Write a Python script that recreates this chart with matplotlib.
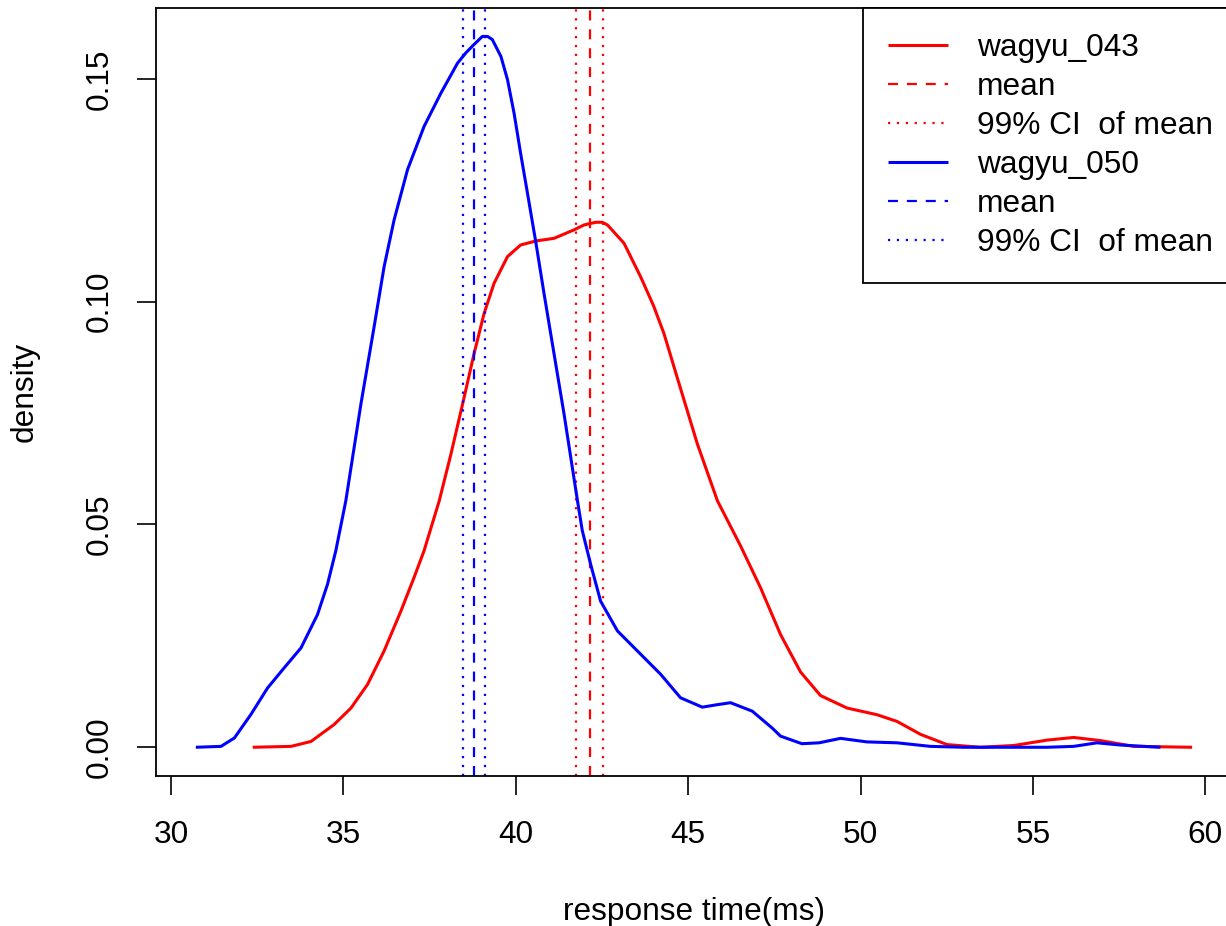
import matplotlib
matplotlib.use("Agg")
import matplotlib.pyplot as plt

plt.rcParams["font.family"] = ["Liberation Sans", "DejaVu Sans"]

# Kernel density estimates of response time (ms)
w043_x = [32.37, 33.48, 34.06, 34.73, 35.22, 35.70, 36.18, 36.67, 37.05, 37.34,
          37.78, 38.12, 38.46, 38.79, 39.08, 39.37, 39.76, 40.14, 40.58, 41.11,
          41.69, 41.98, 42.32, 42.51, 42.66, 43.14, 43.62, 44.00, 44.30, 44.74,
          45.27, 45.85, 46.52, 47.10, 47.68, 48.26, 48.84, 49.61, 50.48, 51.06,
          51.74, 52.51, 53.48, 54.45, 55.41, 56.18, 56.96, 57.93, 59.62]
w043_y = [0.0, 0.0002, 0.0013, 0.0051, 0.0088, 0.0141, 0.0216, 0.0306, 0.0381, 0.0441,
          0.0553, 0.0658, 0.0771, 0.0883, 0.0973, 0.1041, 0.1101, 0.1127, 0.1136, 0.1142,
          0.1161, 0.1172, 0.1178, 0.1178, 0.1172, 0.1131, 0.1056, 0.0990, 0.0928, 0.0815,
          0.0680, 0.0553, 0.0452, 0.0358, 0.0253, 0.0169, 0.0116, 0.0088, 0.0073, 0.0058,
          0.0029, 0.0006, 0.0, 0.0004, 0.0016, 0.0022, 0.0015, 0.0002, 0.0]

w050_x = [30.72, 31.45, 31.84, 32.32, 32.80, 33.28, 33.77, 34.25, 34.54, 34.78,
          35.07, 35.51, 35.89, 36.18, 36.47, 36.86, 37.34, 37.83, 38.31, 38.55,
          38.79, 39.03, 39.18, 39.32, 39.57, 39.76, 39.95, 40.14, 40.34, 40.58,
          40.82, 41.11, 41.40, 41.79, 41.93, 42.17, 42.46, 42.95, 43.53, 44.20,
          44.78, 45.41, 45.80, 46.23, 46.86, 47.44, 47.68, 48.30, 48.80, 49.42,
          50.19, 51.06, 52.03, 53.00, 54.00, 55.41, 56.18, 56.86, 57.54, 58.70]
w050_y = [0.0, 0.0002, 0.0021, 0.0074, 0.0133, 0.0178, 0.0223, 0.0298, 0.0366, 0.0441,
          0.0553, 0.0771, 0.0943, 0.1078, 0.1183, 0.1296, 0.1393, 0.1468, 0.1535, 0.1558,
          0.1577, 0.1595, 0.1595, 0.1588, 0.1550, 0.1498, 0.1423, 0.1333, 0.1243, 0.1134,
          0.1018, 0.0883, 0.0748, 0.0553, 0.0486, 0.0411, 0.0328, 0.0261, 0.0216, 0.0164,
          0.0111, 0.0090, 0.0095, 0.0100, 0.0081, 0.0043, 0.0025, 0.0008, 0.0010, 0.0020,
          0.0012, 0.0010, 0.0002, 0.0, 0.0, 0.0, 0.0002, 0.0010, 0.0005, 0.0]

# Sample means and 99% confidence limits
w043_mean = 42.15
w043_ci = [41.76, 42.53]
w050_mean = 38.79
w050_ci = [38.47, 39.11]

x_ticks = [30, 35, 40, 45, 50, 55, 60]
y_ticks = [0.00, 0.05, 0.10, 0.15]
y_ticklabels = ["0.00", "0.05", "0.10", "0.15"]

FS = 22.8
RED = "#FF0000"
BLUE = "#0000FF"
DASH = (0, (4.5, 4))
DOT = (0, (1, 3))

fig = plt.figure(figsize=(12.26, 9.26), dpi=100)
ax = fig.add_axes([156 / 1226, 1 - 775.7 / 926, 1076 / 1226, 767.7 / 926])

curve_kw = dict(lw=2.2, solid_capstyle="butt", solid_joinstyle="round")
ax.plot(w043_x, w043_y, color=RED, label="wagyu_043", **curve_kw)
ax.axvline(w043_mean, color=RED, lw=1.6, linestyle=DASH, label="mean")
ax.axvline(w043_ci[0], color=RED, lw=1.6, linestyle=DOT, label="99% CI  of mean")
ax.axvline(w043_ci[1], color=RED, lw=1.6, linestyle=DOT)

ax.plot(w050_x, w050_y, color=BLUE, label="wagyu_050", **curve_kw)
ax.axvline(w050_mean, color=BLUE, lw=1.6, linestyle=DASH, label="mean")
ax.axvline(w050_ci[0], color=BLUE, lw=1.6, linestyle=DOT, label="99% CI  of mean")
ax.axvline(w050_ci[1], color=BLUE, lw=1.6, linestyle=DOT)

xmin, xmax = min(w050_x[0], w043_x[0]), max(w050_x[-1], w043_x[-1])
xr = xmax - xmin
ax.set_xlim(xmin - 0.04 * xr, xmax + 0.04 * xr)
ymax = max(max(w043_y), max(w050_y))
ax.set_ylim(-0.04 * ymax, 1.04 * ymax)

ax.set_xticks(x_ticks)
ax.set_xticklabels([str(t) for t in x_ticks])
ax.set_yticks(y_ticks)
ax.set_yticklabels(y_ticklabels, rotation=90, va="center")

ax.tick_params(axis="both", direction="out", length=14, width=1.2,
               labelsize=FS, color="black")
ax.tick_params(axis="x", pad=18)
ax.tick_params(axis="y", pad=16)
for s in ax.spines.values():
    s.set_linewidth(1.3)
    s.set_color("black")

ax.set_xlabel("response time(ms)", fontsize=FS)
ax.xaxis.set_label_coords(0.5, -0.1775)
ax.xaxis.label.set_va("center")
ax.set_ylabel("density", fontsize=FS)
ax.yaxis.set_label_coords(-0.1217, 0.5)
ax.yaxis.label.set_va("center")

leg = ax.legend(loc="upper left", bbox_to_anchor=((862.7 - 156) / 1076, 1.0),
                fontsize=FS, frameon=True, fancybox=False, framealpha=1,
                edgecolor="black", borderpad=0.8, handlelength=1.9,
                handletextpad=0.9, labelspacing=0.28, borderaxespad=0)
leg.get_frame().set_linewidth(1.3)

fig.savefig("out.png", dpi=100)
